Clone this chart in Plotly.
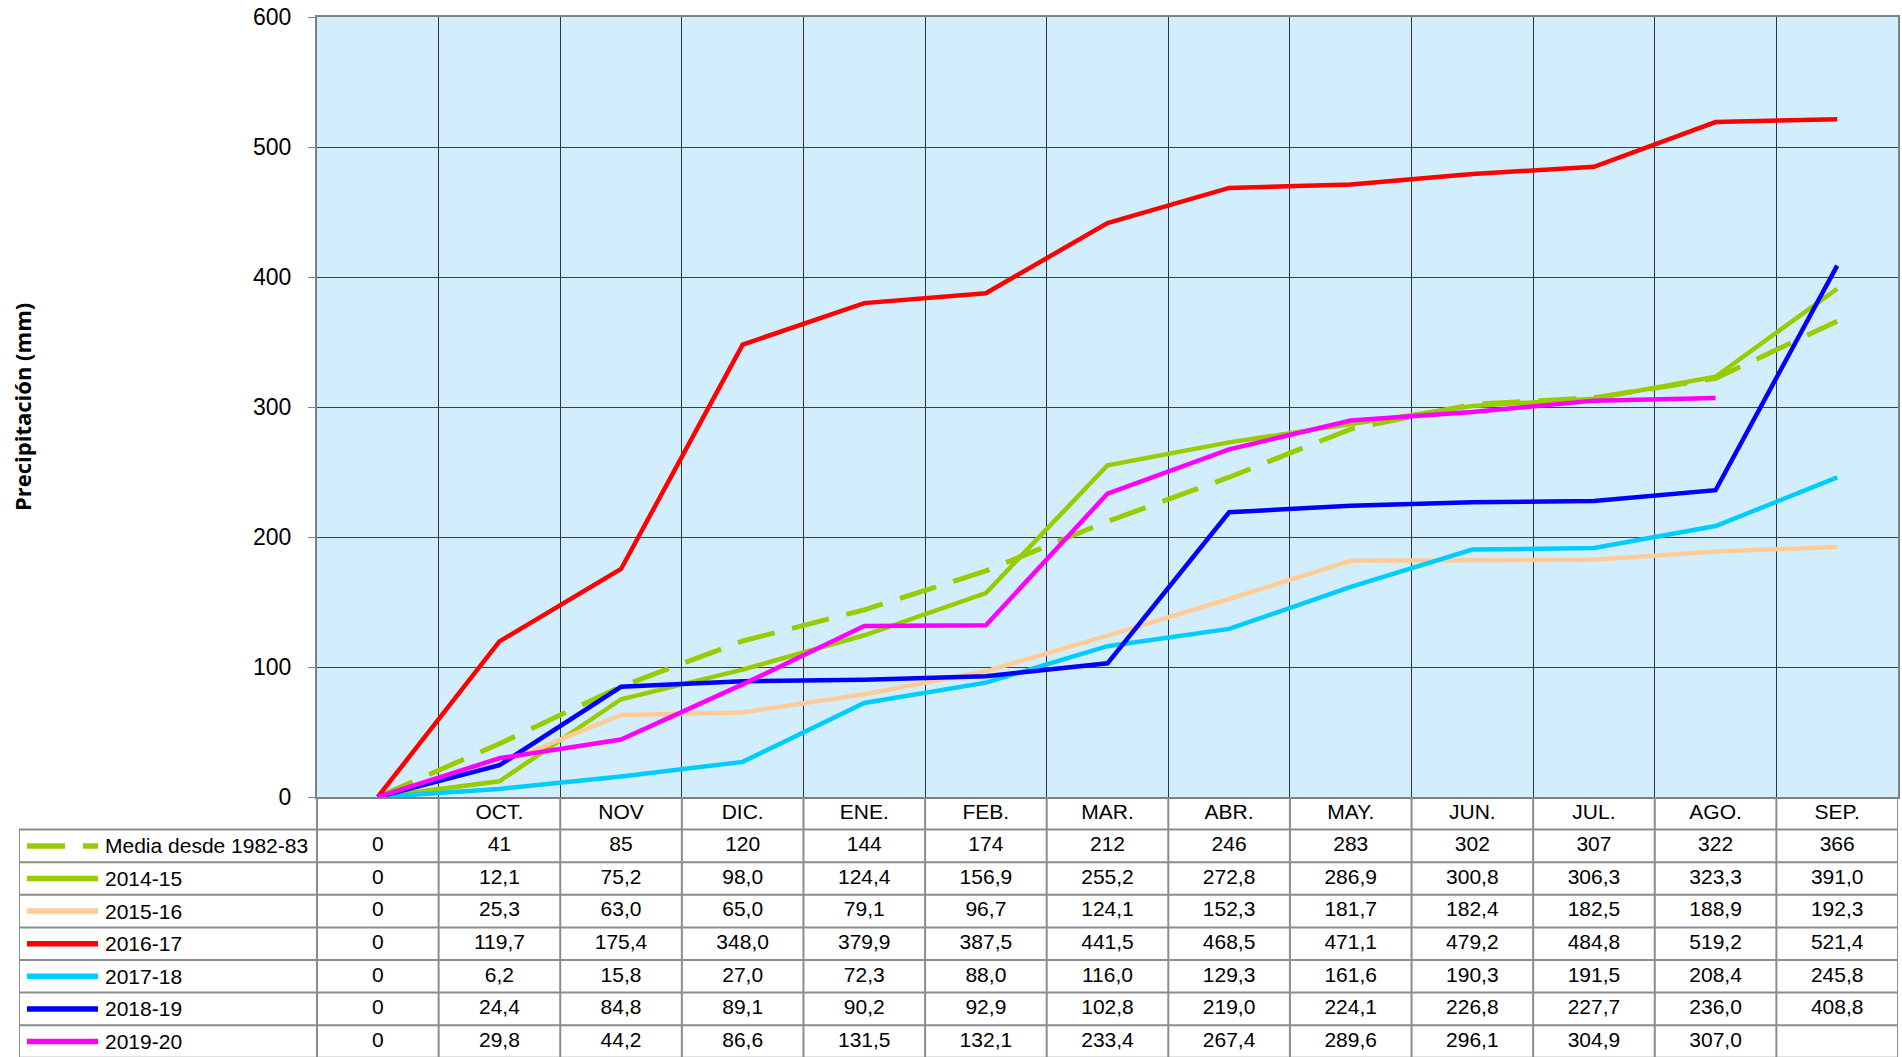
import plotly.graph_objects as go

# ---------------- data ----------------
months = ["OCT.", "NOV", "DIC.", "ENE.", "FEB.", "MAR.", "ABR.", "MAY.", "JUN.", "JUL.", "AGO.", "SEP."]
series_names = ["Media desde 1982-83", "2014-15", "2015-16", "2016-17", "2017-18", "2018-19", "2019-20"]
media = [0, 41, 85, 120, 144, 174, 212, 246, 283, 302, 307, 322, 366]
s1415 = [0, 12.1, 75.2, 98.0, 124.4, 156.9, 255.2, 272.8, 286.9, 300.8, 306.3, 323.3, 391.0]
s1516 = [0, 25.3, 63.0, 65.0, 79.1, 96.7, 124.1, 152.3, 181.7, 182.4, 182.5, 188.9, 192.3]
s1617 = [0, 119.7, 175.4, 348.0, 379.9, 387.5, 441.5, 468.5, 471.1, 479.2, 484.8, 519.2, 521.4]
s1718 = [0, 6.2, 15.8, 27.0, 72.3, 88.0, 116.0, 129.3, 161.6, 190.3, 191.5, 208.4, 245.8]
s1819 = [0, 24.4, 84.8, 89.1, 90.2, 92.9, 102.8, 219.0, 224.1, 226.8, 227.7, 236.0, 408.8]
s1920 = [0, 29.8, 44.2, 86.6, 131.5, 132.1, 233.4, 267.4, 289.6, 296.1, 304.9, 307.0, None]
y_ticks = [0, 100, 200, 300, 400, 500, 600]

series = [media, s1415, s1516, s1617, s1718, s1819, s1920]
colors = ["#99CC00", "#99CC00", "#FFCC99", "#FF0000", "#00CCFF", "#0000FF", "#FF00FF"]
dashes = ["38px,18px", "solid", "solid", "solid", "solid", "solid", "solid"]

# ---------------- geometry (pixels; page body margin is removed below) ----------------
W, H = 1902, 1057
plot_left, plot_right, plot_top, plot_bottom = 317, 1898, 17, 797
table_left = 19
ncols = 13
col_px = (plot_right - plot_left) / ncols
L = (plot_left - table_left) / col_px
row_px = 32.6
x2_min = -0.5 - L
y2_max = -0.5 + (H - plot_bottom) / row_px


def px2x(px):
    return x2_min + (px - table_left) / col_px


FONT = "Liberation Sans, Arial, sans-serif"
xcat = list(range(ncols))

fig = go.Figure()

# main lines
for name, vals, c, d in zip(series_names, series, colors, dashes):
    fig.add_trace(go.Scatter(
        x=xcat, y=vals, mode="lines", name=name,
        line=dict(color=c, width=5 if d != "solid" else 4.5, dash=d),
        connectgaps=False, xaxis="x", yaxis="y", hoverinfo="skip",
    ))


def fmt(v, integer):
    if v is None:
        return ""
    if v == 0:
        return "0"
    if integer:
        return str(int(v))
    return f"{v:.1f}".replace(".", ",")


# header row (months)
fig.add_trace(go.Scatter(
    x=xcat[1:], y=[0] * len(months), text=months, mode="text",
    textposition="middle center", textfont=dict(family=FONT, size=21, color="#000000"),
    xaxis="x2", yaxis="y2", hoverinfo="skip",
))

# data rows
for r, vals in enumerate(series, start=1):
    fig.add_trace(go.Scatter(
        x=xcat, y=[r] * ncols, text=[fmt(v, r == 1) for v in vals], mode="text",
        textposition="middle center", textfont=dict(family=FONT, size=21, color="#000000"),
        xaxis="x2", yaxis="y2", hoverinfo="skip",
    ))

shapes = []
# main plot background
shapes.append(dict(type="rect", xref="x domain", yref="y domain", x0=0, x1=1, y0=0, y1=1,
                   fillcolor="#D2EEFC", line=dict(width=0), layer="below"))

gridc = "#8C8C8C"
nrows = len(series)
# table horizontal lines
for k in range(nrows + 1):
    yk = 0.5 + k
    shapes.append(dict(type="line", xref="x2", yref="y2", x0=x2_min, x1=12.5, y0=yk, y1=yk,
                       line=dict(color=gridc, width=2), layer="above"))
# table vertical lines
shapes.append(dict(type="line", xref="x2", yref="y2", x0=x2_min, x1=x2_min, y0=0.5, y1=nrows + 0.6,
                   line=dict(color=gridc, width=2), layer="above"))
for k in range(ncols + 1):
    xk = -0.5 + k
    shapes.append(dict(type="line", xref="x2", yref="y2", x0=xk, x1=xk, y0=-0.5, y1=nrows + 0.6,
                       line=dict(color=gridc, width=2), layer="above"))

# legend samples in the first column
annotations = []
for r, (name, c, d) in enumerate(zip(series_names, colors, dashes), start=1):
    shapes.append(dict(type="line", xref="x2", yref="y2", x0=px2x(27), x1=px2x(98), y0=r, y1=r,
                       line=dict(color=c, width=5.5, dash=d),
                       layer="above"))
    annotations.append(dict(x=px2x(103), y=r, xref="x2", yref="y2", text=name, showarrow=False,
                            xanchor="left", yanchor="middle",
                            font=dict(family=FONT, size=21, color="#000000")))

# y-axis title
annotations.append(dict(x=22 / W, y=((H - plot_bottom) + (H - plot_top)) / 2 / H,
                        xref="paper", yref="paper",
                        text="<b>Precipitación (mm)</b>", textangle=-90, showarrow=False,
                        xanchor="center", yanchor="middle",
                        font=dict(family="Open Sans, Lato, sans-serif", size=22, color="#000000")))

fig.update_layout(
    width=W, height=H,
    autosize=False,
    margin=dict(l=0, r=0, t=0, b=0, pad=0),
    paper_bgcolor="#FFFFFF", plot_bgcolor="rgba(0,0,0,0)",
    showlegend=False,
    xaxis=dict(domain=[plot_left / W, plot_right / W], range=[-0.5, 12.5],
               tickvals=[k + 0.5 for k in range(12)], showticklabels=False, ticks="",
               showgrid=True, gridcolor="#333333", gridwidth=1, zeroline=False,
               showline=True, mirror=True, linecolor="#808080", linewidth=2,
               anchor="y", fixedrange=True, automargin=False),
    yaxis=dict(domain=[(H - plot_bottom) / H, (H - plot_top) / H], range=[0, 600],
               tickvals=y_ticks, ticktext=[str(v) for v in y_ticks],
               ticks="outside", ticklen=7, tickcolor="#808080", tickwidth=1,
               ticklabelstandoff=12, ticklabeloverflow="allow",
               tickfont=dict(family=FONT, size=23, color="#000000"),
               showgrid=True, gridcolor="#404040", gridwidth=1, zeroline=False,
               showline=True, mirror=True, linecolor="#808080", linewidth=2,
               anchor="x", fixedrange=True, automargin=False),
    xaxis2=dict(domain=[table_left / W, plot_right / W], range=[x2_min, 12.5], visible=False,
                anchor="y2", fixedrange=True, automargin=False),
    yaxis2=dict(domain=[0, (H - plot_bottom) / H], range=[y2_max, -0.5], visible=False,
                anchor="x2", fixedrange=True, automargin=False),
    shapes=shapes,
    annotations=annotations,
)

fig.write_html("out.html", config={"displayModeBar": False},
               post_script="document.body.style.margin='0px';")
